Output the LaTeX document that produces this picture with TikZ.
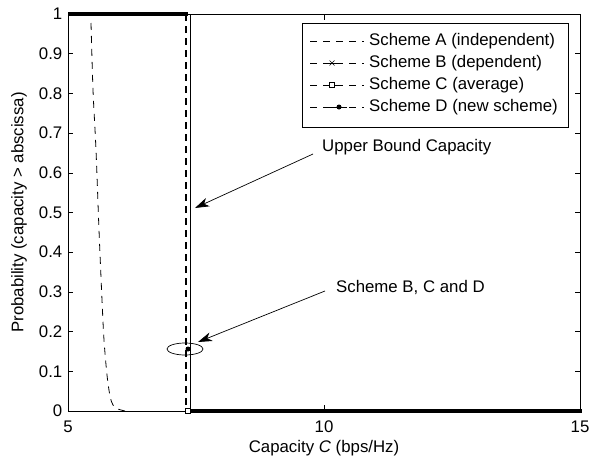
\documentclass[tikz,border=0pt]{standalone}
\usepackage{fontspec}
\setmainfont{Liberation Sans}
\usetikzlibrary{arrows.meta,shapes.geometric}
\begin{document}
\begin{tikzpicture}[x=1pt,y=-1pt,
  lbl/.style={font=\fontsize{16.8}{19}\selectfont, inner sep=0pt},
  axisline/.style={line width=0.8pt, black},
  tickline/.style={line width=0.6pt, black},
  thickline/.style={line width=4.5pt, black, line cap=butt},
  curveA/.style={line width=0.8pt, dash pattern=on 7pt off 6pt},
  bounddash/.style={line width=1.6pt, dash pattern=on 7pt off 5pt},
  legline/.style={line width=0.7pt, dash pattern=on 7pt off 6pt},
  annarrow/.style={line width=0.7pt, -{Stealth[length=14pt,width=9pt,inset=4pt]}},
  crossmark/.style={line width=0.6pt},
  sqmark/.style={line width=0.6pt, draw=black, fill=white},
  dotmark/.style={fill=black}
]
\useasboundingbox (0,0) rectangle (592,458);
\fill[white] (0,0) rectangle (592,458);

% axes box
\coordinate (bl) at (68,411);
\coordinate (tr) at (580,14);
\coordinate (br) at (580,411);
\coordinate (tl) at (68,14);

% ticks and tick labels on y
\foreach \k/\lab in {0/0,1/0.1,2/0.2,3/0.3,4/0.4,5/0.5,6/0.6,7/0.7,8/0.8,9/0.9,10/1}{
  \pgfmathsetmacro{\yy}{411-39.7*\k}
  \draw[tickline] (68,\yy) -- (73,\yy);
  \draw[tickline] (580,\yy) -- (575,\yy);
  \node[lbl, anchor=east] (ytick\k) at (62.5,\yy) {\lab};
}
% x ticks
\draw[tickline] (324,411) -- (324,405);
\draw[tickline] (324,14) -- (324,20);
\node[lbl] (xt5) at (68,427) {5};
\node[lbl] (xt10) at (324,427) {10};
\node[lbl] (xt15) at (580,427) {15};

% axis labels
\node[lbl] (xlabel) at (324,448) {Capacity \textit{C} (bps/Hz)};
\node[lbl, rotate=90] (ylabel) at (19,212.5) {Probability (capacity > abscissa)};

% Scheme A curve
\draw[curveA] plot[smooth] coordinates {(91,23) (93,90) (96,150) (99,230) (102,300) (104,340) (107,375) (110,396) (113,405) (118,409) (125,411)};

% Scheme B, C, D thick segments
\draw[thickline] (68,14) -- (188,14);
\draw[thickline] (186,411) -- (582,411);
\draw[bounddash] (186,14) -- (186,411);

% upper bound
\draw[line width=0.8pt] (190,14) -- (190,411);

% axes box
\draw[axisline] (tl) rectangle (br);

% markers
\node[sqmark, rectangle, minimum size=5pt, inner sep=0pt] (sqm) at (188,411) {};
\node[dotmark, circle, minimum size=5pt, inner sep=0pt] (dotm) at (188,349) {};
\node[draw, ellipse, line width=0.7pt, minimum width=36pt, minimum height=12pt, inner sep=0pt] (ell) at (185,349) {};

% legend
\node[draw, line width=0.8pt, fill=white, minimum width=266pt, minimum height=104pt, anchor=north west, inner sep=0pt] (legend) at (302,23) {};
\node[lbl, anchor=west] (legA) at (369,41) {Scheme A (independent)};
\node[lbl, anchor=west] (legB) at (369,63) {Scheme B (dependent)};
\node[lbl, anchor=west] (legC) at (369,85) {Scheme C (average)};
\node[lbl, anchor=west] (legD) at (369,107) {Scheme D (new scheme)};
\draw[legline] (310,41) -- (364,41);
\draw[legline] (310,63) -- (364,63);
\draw[legline] (310,85) -- (364,85);
\draw[legline] (310,107) -- (364,107);
\draw[line width=0.7pt] (323,63) -- (342,63);
\draw[crossmark] (329.5,60.5) -- (334.5,65.5) (329.5,65.5) -- (334.5,60.5);
\draw[line width=0.7pt] (323,85) -- (342,85);
\node[sqmark, rectangle, minimum size=5pt, inner sep=0pt] (legsq) at (332,85) {};
\draw[line width=0.7pt] (327,107) -- (347,107);
\node[dotmark, circle, minimum size=5pt, inner sep=0pt] (legdot) at (339,107) {};

% annotations
\node[lbl, anchor=west] (ubtext) at (322,147) {Upper Bound Capacity};
\coordinate (ubstart) at (313,154);
\coordinate (ubtip) at (195,208);
\draw[annarrow] (ubstart) -- (ubtip);

\node[lbl, anchor=west] (bcdtext) at (336,287) {Scheme B, C and D};
\coordinate (bcdstart) at (325,291);
\coordinate (bcdtip) at (198,342);
\draw[annarrow] (bcdstart) -- (bcdtip);
\end{tikzpicture}
\end{document}
